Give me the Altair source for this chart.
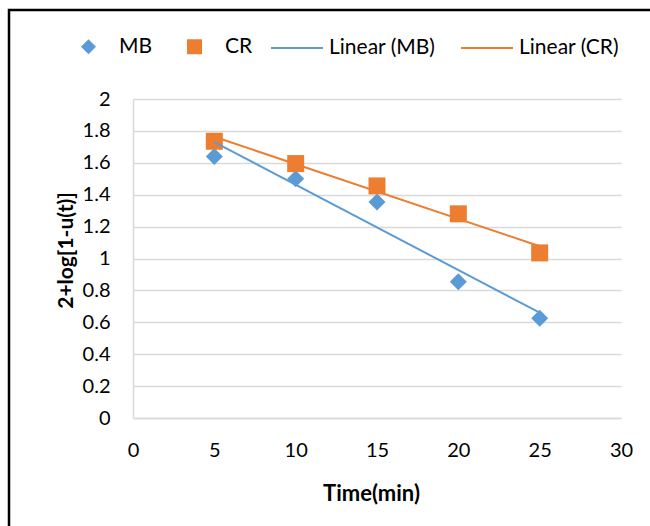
import altair as alt
import pandas as pd

time = [5, 10, 15, 20, 25]
mb = [1.64, 1.50, 1.355, 0.855, 0.625]
cr = [1.735, 1.595, 1.455, 1.28, 1.035]
point_keys = ["MB", "CR"]
line_keys = ["Linear (MB)", "Linear (CR)"]
colors = ["#5B9BD5", "#ED7D31"]
shapes = ["diamond", "square"]
x_ticks = [0, 5, 10, 15, 20, 25, 30]
y_ticks = [0, 0.2, 0.4, 0.6, 0.8, 1.0, 1.2, 1.4, 1.6, 1.8, 2.0]

df = pd.DataFrame({
    "time": time * 2,
    "value": mb + cr,
    "series": ["MB"] * 5 + ["CR"] * 5,
})

FONT = "Lato"
LFS = 21

leg_pts = alt.Legend(
    title=None, orient="none", legendX=-55, legendY=-63, direction="horizontal",
    symbolSize=225, labelOffset=20, columnPadding=31, labelFontSize=LFS, labelFont=FONT,
    labelColor="#000000", symbolStrokeWidth=0,
)
leg_lines = alt.Legend(
    title=None, orient="none", legendX=137, legendY=-78, direction="horizontal",
    symbolType="stroke", symbolSize=2704, symbolStrokeWidth=2,
    labelOffset=5, columnPadding=21, labelFontSize=LFS, labelFont=FONT,
    labelColor="#000000",
)

xaxis = alt.Axis(values=x_ticks, title="Time(min)", grid=False, labelFlush=False,
                 labelOverlap=False, tickCount=len(x_ticks), titleX=238)
yaxis = alt.Axis(values=y_ticks, format=".1~f", title="2+log[1-u(t)]",
                 labelOverlap=False, labelFlush=False, tickCount=len(y_ticks),
                 grid=True, titleY=151)

xenc = alt.X("time:Q", scale=alt.Scale(domain=[0, 30], nice=False), axis=xaxis)
yenc = alt.Y("value:Q", scale=alt.Scale(domain=[0, 2], nice=False), axis=yaxis)

base = alt.Chart(df)

points = base.mark_point(filled=True, size=289, opacity=1).encode(
    x=xenc, y=yenc,
    color=alt.Color("series:N", scale=alt.Scale(domain=point_keys, range=colors), legend=leg_pts),
    shape=alt.Shape("series:N", scale=alt.Scale(domain=point_keys, range=shapes), legend=leg_pts),
)

lines = base.transform_regression(
    "time", "value", groupby=["series"]
).transform_calculate(
    lkey='"Linear (" + datum.series + ")"'
).mark_line(strokeWidth=2).encode(
    x=xenc, y=yenc,
    stroke=alt.Stroke("lkey:N", scale=alt.Scale(domain=line_keys, range=colors), legend=leg_lines),
)

frame = alt.Chart(pd.DataFrame({"frame": [0]})).mark_rect(
    fillOpacity=0, stroke="#000000", strokeWidth=2.5
).encode(x=alt.value(-124), x2=alt.value(700), y=alt.value(-89), y2=alt.value(600))

chart = alt.layer(points, lines, frame).properties(
    width=488, height=319,
    autosize=alt.AutoSizeParams(type="none"),
    padding={"left": 133, "top": 99, "right": 29, "bottom": 108},
    background="white",
).configure_view(stroke=None).configure_axis(
    labelFont=FONT, labelFontSize=20, labelColor="#000000",
    titleFont=FONT, titleFontWeight="bold", titleColor="#000000",
    domainColor="#d9d9d9", domainWidth=1.5, gridColor="#d9d9d9", gridWidth=1.5,
    ticks=False,
).configure_axisY(labelPadding=23, titlePadding=6, titleFontSize=21).configure_axisX(
    labelPadding=22, titlePadding=23, titleFontSize=22
)

chart.save("out.html", embed_options={"renderer": "svg", "actions": False})
